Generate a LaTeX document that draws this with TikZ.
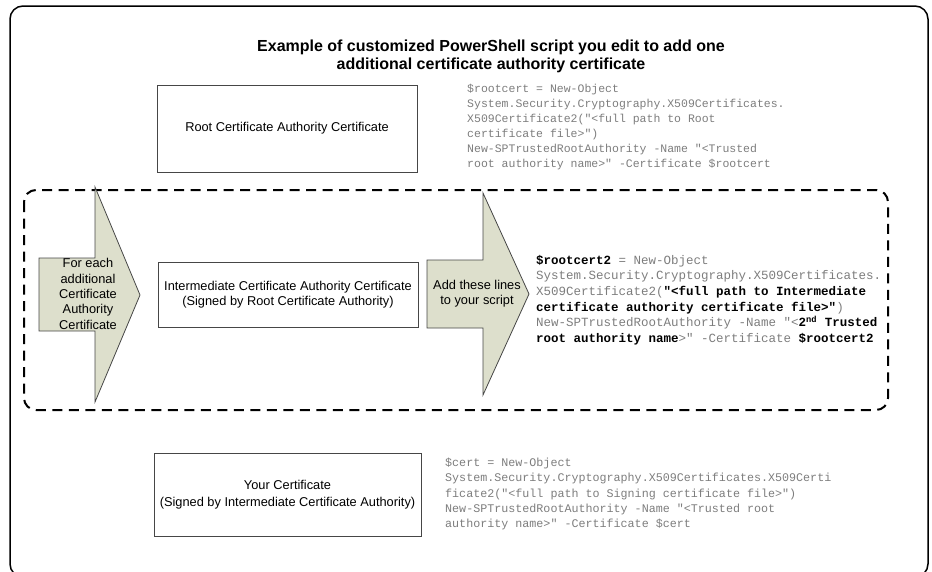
\documentclass[tikz,border=0pt]{standalone}
\usepackage{fontspec}
\setmainfont{Liberation Sans}
\setmonofont{Liberation Mono}

\definecolor{arrowfill}{RGB}{221,223,204}
\definecolor{codegray}{RGB}{125,125,125}
\definecolor{edgegray}{RGB}{70,70,70}

\newcommand{\hl}[1]{{\color{black}\bfseries #1}}

\tikzset{
  certbox/.style={draw=edgegray,line width=0.9pt,align=center,inner sep=0pt,
    font=\fontsize{12.8}{15.3}\selectfont},
  code/.style={anchor=west,align=left,inner sep=0pt,text=codegray,
    font=\ttfamily\fontsize{11.5}{14.9}\selectfont},
  bigarrow/.style={draw=edgegray,fill=arrowfill,line width=0.8pt,line join=miter},
  label/.style={align=center,inner sep=0pt,font=\fontsize{12.8}{15.3}\selectfont}
}

\begin{document}
\begin{tikzpicture}[x=1pt,y=-1pt]
\useasboundingbox (0,0) rectangle (932,571);

% outer frame
\draw[line width=1.5pt,rounded corners=13pt] (10,6) rectangle (928,577);

\node[align=center,font=\bfseries\fontsize{16}{18.5}\selectfont] (title) at (491,56.5)
  {Example of customized PowerShell script you edit to add one\\additional certificate authority certificate};

% root certificate
\node[certbox,minimum width=260pt,minimum height=87pt] (root) at (287,128.5) {Root Certificate Authority Certificate};
\node[code] (rootcode) at (467,127) {\$rootcert = New-Object\\System.Security.Cryptography.X509Certificates.\\X509Certificate2("<full path to Root\\certificate file>")\\New-SPTrustedRootAuthority -Name "<Trusted\\root authority name>" -Certificate \$rootcert};

% repeated part
\draw[line width=2pt,dash pattern=on 10pt off 6.5pt,rounded corners=12pt] (24,190) rectangle (888,410);

\draw[bigarrow] (39,258) -- (95,258) -- (95,187) -- (140,295) -- (95,402) -- (95,331) -- (39,331) -- cycle;
\node[label] (foreach) at (88,294) {For each\\additional\\Certificate\\Authority\\Certificate};

\node[certbox,minimum width=260pt,minimum height=65pt] (inter) at (288,294.5) {Intermediate Certificate Authority Certificate\\(Signed by Root Certificate Authority)};

\draw[bigarrow] (427,260) -- (483,260) -- (483,193) -- (529,294) -- (483,395) -- (483,328) -- (427,328) -- cycle;
\node[label] (addlines) at (477,294) {Add these lines\\to your script};

\node[code,font=\ttfamily\fontsize{12.5}{15.6}\selectfont] (intercode) at (536,300) {\hl{\$rootcert2} = New-Object\\System.Security.Cryptography.X509Certificates.\\X509Certificate2(\hl{"<full path to Intermediate}\\\hl{certificate authority certificate file>"})\\New-SPTrustedRootAuthority -Name "<\hl{2\textsuperscript{nd} Trusted}\\\hl{root authority name}>" -Certificate \hl{\$rootcert2}};

% your certificate
\node[certbox,minimum width=267pt,minimum height=83pt,font=\fontsize{12.8}{17.5}\selectfont] (yours) at (287.5,494.5) {Your Certificate\\(Signed by Intermediate Certificate Authority)};
\node[code,font=\ttfamily\fontsize{11.7}{15.3}\selectfont] (yourcode) at (445,494) {\$cert = New-Object\\System.Security.Cryptography.X509Certificates.X509Certi\\ficate2("<full path to Signing certificate file>")\\New-SPTrustedRootAuthority -Name "<Trusted root\\authority name>" -Certificate \$cert};
\end{tikzpicture}
\end{document}
